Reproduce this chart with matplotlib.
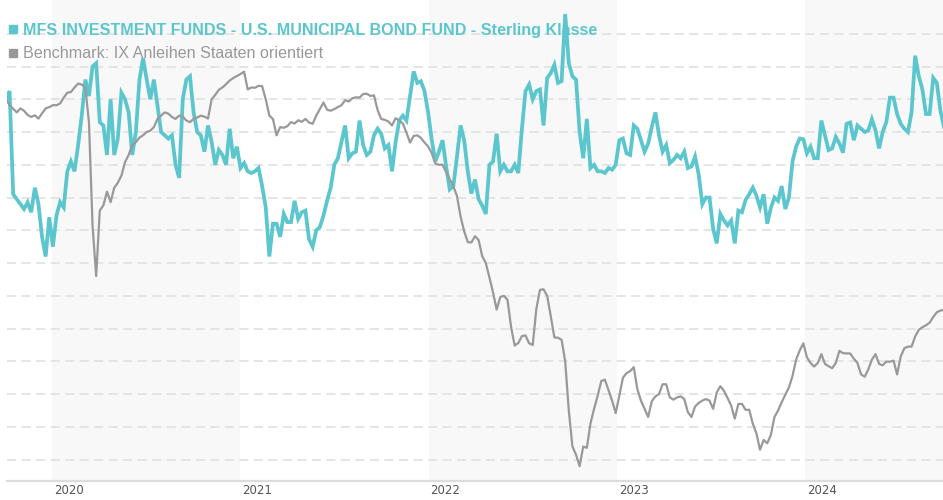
import numpy as np
import pandas as pd
import matplotlib
matplotlib.use("Agg")
import matplotlib.pyplot as plt
from matplotlib.lines import Line2D

# Wochenwerte (Freitag) – Wertentwicklung in Rasterstufen
wochen = pd.date_range("2019-10-04", periods=261, freq="7D")

fonds = [
    11.0, 11.25, 8.1, 7.95, 7.8, 7.65, 7.85, 7.55, 8.3, 7.8,
    6.8, 6.2, 7.4, 6.5, 7.45, 7.86, 7.7, 8.8, 9.1, 8.8,
    9.6, 10.5, 11.6, 11.1, 12.0, 12.1, 10.3, 10.2, 9.3, 11.0,
    9.3, 9.8, 11.2, 11.0, 10.6, 9.3, 10.0, 11.6, 12.25, 11.6,
    11.0, 11.6, 10.8, 10.0, 9.9, 9.8, 9.9, 9.0, 8.6, 11.0,
    11.6, 11.7, 10.6, 10.0, 9.9, 9.4, 10.2, 9.7, 9.0, 9.45,
    9.3, 9.0, 10.1, 9.2, 9.55, 8.9, 9.05, 8.8, 8.75, 8.8,
    8.9, 8.35, 7.7, 6.2, 7.2, 7.2, 6.8, 7.5, 7.25, 7.25,
    7.9, 7.35, 7.55, 7.6, 6.73, 6.5, 7.0, 7.1, 7.45, 7.9,
    8.3, 9.0, 9.2, 9.7, 10.2, 9.2, 9.35, 9.4, 10.35, 9.6,
    9.3, 9.4, 9.9, 10.1, 9.95, 9.5, 9.6, 8.8, 9.7, 10.35,
    10.5, 10.35, 11.1, 11.85, 11.5, 11.55, 11.25, 10.6, 9.77, 9.1,
    9.4, 9.75, 8.95, 8.25, 8.35, 9.25, 10.2, 9.75, 8.8, 8.12,
    8.55, 7.95, 7.75, 7.5, 9.0, 9.1, 9.95, 8.8, 9.0, 8.8,
    8.8, 9.0, 8.75, 10.1, 11.25, 11.45, 11.0, 11.25, 11.3, 10.2,
    11.65, 11.8, 12.05, 11.5, 11.55, 13.6, 12.1, 11.7, 11.6, 10.0,
    9.2, 10.4, 8.9, 9.0, 8.8, 8.8, 8.75, 8.9, 8.85, 9.0,
    9.75, 9.8, 9.35, 9.3, 10.2, 10.1, 9.75, 9.4, 9.65, 10.15,
    10.6, 9.9, 9.4, 9.6, 9.05, 9.15, 9.3, 9.2, 9.4, 8.9,
    8.95, 9.25, 8.7, 7.8, 8.0, 8.0, 7.05, 6.6, 7.5, 7.3,
    7.15, 7.3, 6.6, 7.6, 7.55, 7.93, 8.1, 8.3, 8.06, 7.7,
    8.1, 7.2, 7.68, 8.0, 7.9, 8.35, 7.65, 8.0, 9.1, 9.55,
    9.8, 9.78, 9.35, 9.55, 9.2, 9.2, 10.35, 9.9, 9.45, 9.5,
    9.85, 9.65, 9.37, 10.25, 10.29, 9.75, 10.2, 10.1, 10.0, 10.05,
    10.39, 10.05, 9.5, 10.0, 10.3, 11.05, 11.05, 10.55, 10.25, 10.1,
    10.0, 10.6, 12.33, 11.71, 11.3, 10.55, 10.55, 11.65, 11.5, 10.65, 10.15,
]

benchmark = [
    11.0, 10.82, 10.71, 10.6, 10.72, 10.65, 10.52, 10.46, 10.51, 10.41,
    10.57, 10.72, 10.76, 10.82, 10.82, 10.87, 11.05, 11.2, 11.22, 11.36,
    11.48, 11.45, 11.36, 10.3, 7.14, 5.6, 7.6, 7.76, 8.18, 7.86,
    8.3, 8.45, 8.67, 9.08, 9.3, 9.6, 9.69, 9.83, 9.9, 10.0,
    10.04, 10.15, 10.4, 10.5, 10.6, 10.56, 10.46, 10.4, 10.5, 10.47,
    10.35, 10.3, 10.4, 10.44, 10.5, 10.47, 10.41, 11.0, 11.13, 11.29,
    11.36, 11.46, 11.57, 11.65, 11.71, 11.77, 11.84, 11.3, 11.36, 11.35,
    11.41, 11.4, 11.0, 10.5, 10.4, 9.9, 10.15, 10.13, 10.18, 10.3,
    10.26, 10.36, 10.31, 10.4, 10.29, 10.25, 10.5, 10.7, 10.9, 10.68,
    10.65, 10.7, 10.76, 10.82, 10.97, 10.93, 11.03, 11.06, 11.05, 11.16,
    11.17, 11.1, 11.12, 10.67, 10.4, 10.37, 10.32, 10.2, 10.42, 10.35,
    10.26, 9.98, 9.68, 9.88, 9.9, 9.82, 9.68, 9.56, 9.36, 9.04,
    9.0, 9.0, 8.78, 8.56, 8.34, 8.05, 7.42, 6.97, 6.64, 6.63,
    6.82, 6.7, 6.21, 6.0, 5.56, 5.1, 4.58, 4.96, 5.0, 4.88,
    4.05, 3.48, 3.56, 3.77, 3.79, 3.55, 3.5, 4.6, 5.18, 5.2,
    5.0, 4.38, 3.73, 3.72, 3.66, 3.0, 1.5, 0.4, 0.15, -0.2,
    0.4, 0.36, 1.1, 1.55, 1.95, 2.4, 2.44, 2.12, 1.8, 1.42,
    1.95, 2.5, 2.64, 2.7, 2.82, 2.15, 1.8, 1.55, 1.3, 1.78,
    1.93, 2.0, 2.3, 2.3, 1.9, 1.83, 1.9, 1.93, 1.85, 1.45,
    1.3, 1.62, 1.73, 1.8, 1.85, 1.8, 1.55, 2.05, 2.24, 2.1,
    1.88, 1.65, 1.25, 1.7, 1.7, 1.52, 1.52, 1.1, 0.8, 0.3,
    0.6, 0.5, 0.75, 1.3, 1.5, 1.75, 1.98, 2.2, 2.55, 3.05,
    3.33, 3.55, 3.12, 2.95, 2.84, 2.95, 3.22, 2.92, 2.85, 2.79,
    2.95, 3.32, 3.25, 3.24, 3.24, 3.08, 2.95, 2.6, 2.53, 2.75,
    3.05, 3.22, 2.92, 2.88, 2.99, 2.99, 3.02, 2.6, 3.15, 3.4,
    3.45, 3.45, 3.76, 3.96, 4.04, 4.1, 4.18, 4.35, 4.5, 4.55, 4.57,
]

jahre = [2020, 2021, 2022, 2023, 2024]
label_fonds = "MFS INVESTMENT FUNDS - U.S. MUNICIPAL BOND FUND - Sterling Klasse"
label_bench = "Benchmark: IX Anleihen Staaten orientiert"

teal = "#5cc6ce"
grau = "#999999"

plt.rcParams['font.family'] = ['Liberation Sans', 'DejaVu Sans']

fig = plt.figure(figsize=(9.43, 5), dpi=100)
ax = fig.add_axes([7 / 943, 19 / 500, 936 / 943, 481 / 500])

# jedes zweite Jahr grau hinterlegen
for j in jahre[::2]:
    ax.axvspan(pd.Timestamp(f"{j}-01-01"), pd.Timestamp(f"{j + 1}-01-01"),
               color="#f8f8f8", lw=0, zorder=0)

# gestrichelte Rasterlinien
for k in range(14):
    ax.axhline(k, color="#dedede", lw=1.1, dashes=(6, 3.5), zorder=1)

ax.plot(wochen, fonds, color=teal, lw=2.7, solid_joinstyle="miter", zorder=3)
ax.plot(wochen, benchmark, color=grau, lw=1.6, zorder=4)

ax.set_xlim(pd.Timestamp("2019-10-06"), pd.Timestamp("2024-09-25"))
ax.set_ylim(-0.653, 14.03)
ax.set_yticks([])
ax.set_xticks([])
for s in ["top", "left", "right"]:
    ax.spines[s].set_visible(False)
ax.spines["bottom"].set_color("#dcdcdc")
ax.spines["bottom"].set_linewidth(1.6)

# Jahresbeschriftung
for j in jahre:
    ax.annotate(str(j), xy=(pd.Timestamp(f"{j}-01-01"), 0), xycoords=("data", "axes fraction"),
                xytext=(2, -9), textcoords="offset pixels", ha="left", va="center",
                fontsize=8.5, color="#555555", family="DejaVu Sans")

# Legende oben links
fig.add_artist(Line2D([12.5 / 943], [1 - 29.5 / 500], marker="s", ms=5.4, color=teal,
                      transform=fig.transFigure))
fig.add_artist(Line2D([12.5 / 943], [1 - 52.5 / 500], marker="s", ms=5.4, color=grau,
                      transform=fig.transFigure))
fig.text(23 / 943, 1 - 34.5 / 500, label_fonds, color=teal, fontsize=11.6,
         fontweight="bold", va="baseline")
fig.text(23 / 943, 1 - 57.5 / 500, label_bench, color=grau, fontsize=11.6, va="baseline")

fig.savefig("out.png", dpi=100)
